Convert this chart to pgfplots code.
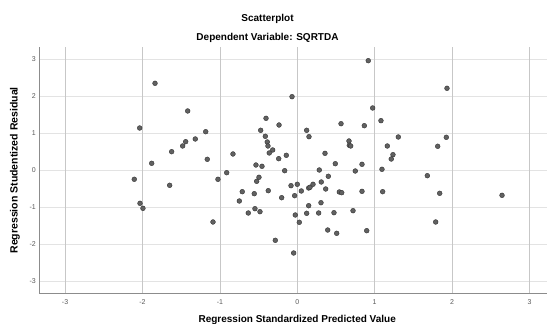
\documentclass[border=0pt]{standalone}
\usepackage{pgfplots}
\pgfplotsset{compat=1.18}
\usepackage{fontspec}
\setmainfont{Liberation Sans}
\begin{document}
\begin{tikzpicture}
\begin{axis}[
  scale only axis, width=507.7pt, height=246pt,
  xmin=-3.333, xmax=3.226, ymin=-3.316, ymax=3.332,
  axis x line*=bottom, axis y line*=left,
  axis line style={draw=black!45, line width=0.6pt},
  xtick={-3,-2,-1,0,1,2,3}, ytick={-3,-2,-1,0,1,2,3},
  major tick length=0pt,
  ymajorgrids, major grid style={draw=black!11, line width=1.4pt},
  extra x ticks={-3,-2,-1,0,1,2,3}, extra x tick labels={},
  extra x tick style={xmajorgrids=true, major grid style={draw=black!22, line width=0.6pt}},
  /pgf/number format/assume math mode=true,
  tick label style={font=\fontsize{7}{8}\selectfont, text=black!65},
  xticklabel style={yshift=-3pt},
  clip=false,
]
\addplot[only marks, mark=*, mark size=2.4pt, mark options={fill=black!62, draw=black!80, line width=0.4pt}] coordinates {
(-1.838,2.351) (-1.416,1.603) (-2.036,1.143) (-1.183,1.043) (-1.318,0.846)
(-1.442,0.773) (-1.481,0.657) (-1.623,0.503) (-1.163,0.297) (-1.881,0.189)
(-2.106,-0.243) (-1.649,-0.405) (-2.032,-0.892) (-1.994,-1.027) (0.917,2.962)
(-0.068,1.989) (-0.404,1.405) (-0.236,1.224) (-0.473,1.081) (-0.413,0.919)
(-0.388,0.765) (-0.379,0.657) (-0.318,0.549) (-0.362,0.468) (-0.240,0.314)
(-0.142,0.405) (-0.831,0.441) (-0.534,0.143) (-0.456,0.108) (-0.163,-0.011)
(-0.912,-0.065) (-1.025,-0.243) (-0.495,-0.189) (0.121,1.081) (0.151,0.908)
(0.565,1.259) (0.866,1.205) (0.668,0.792) (0.672,0.676) (0.690,0.657)
(0.358,0.459) (0.491,0.178) (0.284,0.008) (0.401,-0.162) (0.749,-0.019)
(0.836,0.162) (1.934,2.216) (0.974,1.684) (1.081,1.341) (1.305,0.900)
(1.163,0.657) (1.236,0.422) (1.214,0.305) (1.814,0.649) (1.925,0.892)
(1.094,0.027) (1.680,-0.146) (0.836,-0.568) (1.103,-0.578) (1.840,-0.622)
(2.645,-0.676) (1.788,-1.397) (0.897,-1.632) (-0.525,-0.297) (-0.711,-0.578)
(-0.749,-0.830) (-0.556,-0.632) (-0.375,-0.551) (-0.633,-1.154) (-0.547,-1.038)
(-0.482,-1.119) (-0.202,-0.741) (-0.081,-0.416) (0.000,-0.378) (-0.034,-0.686)
(0.052,-0.559) (0.147,-0.478) (0.164,-0.459) (0.203,-0.378) (0.310,-0.316)
(0.367,-0.505) (0.543,-0.586) (0.574,-0.605) (0.147,-0.957) (0.121,-1.162)
(0.276,-1.154) (0.306,-0.876) (0.474,-1.146) (0.720,-1.092) (-0.026,-1.208)
(0.026,-1.405) (-1.089,-1.397) (0.393,-1.614) (0.509,-1.703) (-0.284,-1.892)
(-0.047,-2.235)
};
\node[font=\bfseries\fontsize{10}{12}\selectfont, anchor=center, yshift=28pt] at (axis description cs:0.4495,1) {Scatterplot};
\node[font=\bfseries\fontsize{10}{12}\selectfont, anchor=center, yshift=9pt] at (axis description cs:0.4495,1) {Dependent Variable: SQRTDA};
\node[font=\bfseries\fontsize{10}{12}\selectfont, anchor=center, yshift=-27pt] at (axis description cs:0.508,0) {Regression Standardized Predicted Value};
\node[font=\bfseries\fontsize{10.5}{12}\selectfont, anchor=center, xshift=-24.3pt, rotate=90] at (axis description cs:0,0.4988) {Regression Studentized Residual};
\end{axis}
\pgfresetboundingbox
\path (-39.3pt,-31pt) rectangle (507.7pt,293pt);
\end{tikzpicture}
\end{document}
